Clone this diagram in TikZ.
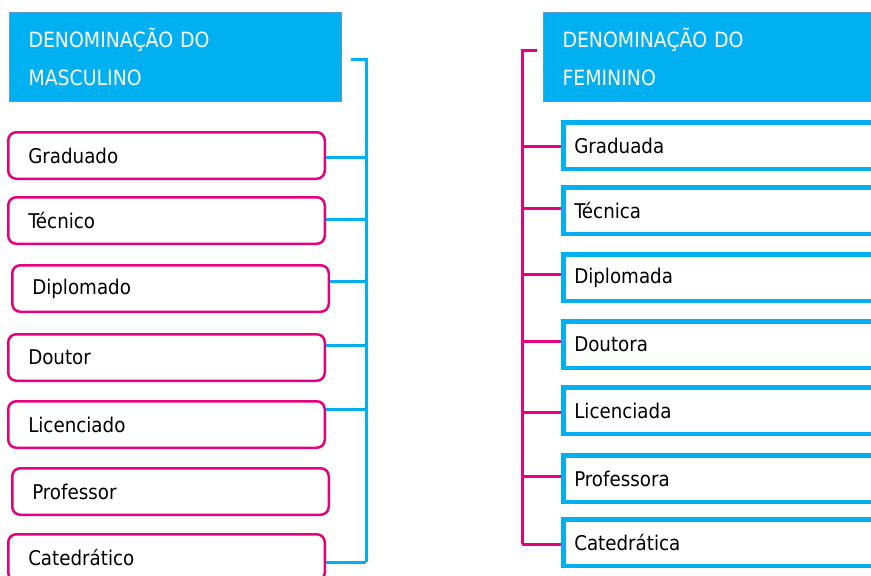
\documentclass[tikz,border=0pt]{standalone}
\usepackage{fontspec}
\setmainfont{DejaVu Sans Condensed}
\usetikzlibrary{positioning,calc}
\definecolor{cyanb}{RGB}{0,176,240}
\definecolor{pinkb}{RGB}{230,0,126}
\definecolor{edgeb}{RGB}{91,155,213}
\tikzset{
	head/.style={draw=edgeb, line width=1pt, fill=cyanb, text=white, anchor=north west,
		minimum width=332pt, minimum height=89pt, inner xsep=19pt, text width=294pt,
		align=left, font=\fontsize{21}{38}\selectfont},
	mbox/.style={draw=pinkb, line width=2.5pt, rounded corners=8pt, anchor=north west,
		minimum width=316.5pt, minimum height=46.5pt, inner xsep=20pt, text width=276.5pt,
		align=left, font=\fontsize{20.3}{24}\selectfont},
	fbox/.style={draw=cyanb, line width=4.5pt, anchor=north west,
		minimum width=340pt, minimum height=46.5pt, inner xsep=11pt, text width=318pt,
		align=left, font=\fontsize{20.3}{24}\selectfont},
	mline/.style={draw=cyanb, line width=3pt},
	fline/.style={draw=pinkb, line width=3pt}
}

\begin{document}
\begin{tikzpicture}[x=1pt, y=-1pt]
	\clip (0,0) rectangle (871,576);

	% masculino
	\node[head] (mh) at (9,12) {DENOMINAÇÃO DO\\MASCULINO};
	\node[mbox] (m1) at (7,131) {Graduado};
	\node[mbox] (m2) at (7,196) {Técnico};
	\node[mbox] (m3) at (11,264) {Diplomado};
	\node[mbox] (m4) at (7,333) {Doutor};
	\node[mbox] (m5) at (7,400) {Licenciado};
	\node[mbox] (m6) at (11,467) {Professor};
	\node[mbox] (m7) at (7,533) {Catedrático};

	\coordinate (mtop) at (351,59);
	\coordinate (mbar) at (366,59);
	\coordinate (mj1) at (366,157);
	\coordinate (mj2) at (366,219);
	\coordinate (mj3) at (366,281);
	\coordinate (mj4) at (366,345);
	\coordinate (mj5) at (366,409);
	\coordinate (mj7) at (366,562);

	\draw[mline] (mtop) -- (mbar) -- (mj7);
	\draw[mline] (m1.east |- mj1) -- (mj1);
	\draw[mline] (m2.east |- mj2) -- (mj2);
	\draw[mline] (m3.east |- mj3) -- (mj3);
	\draw[mline] (m4.east |- mj4) -- (mj4);
	\draw[mline] (m5.east |- mj5) -- (mj5);
	\draw[mline] (m7.east |- mj7) -- (mj7);

	% feminino
	\node[head] (fh) at (543,12) {DENOMINAÇÃO DO\\FEMININO};
	\node[fbox] (f1) at (561,120) {Graduada};
	\node[fbox] (f2) at (561,185) {Técnica};
	\node[fbox] (f3) at (561,252) {Diplomada};
	\node[fbox] (f4) at (561,319) {Doutora};
	\node[fbox] (f5) at (561,385) {Licenciada};
	\node[fbox] (f6) at (561,453) {Professora};
	\node[fbox] (f7) at (561,517) {Catedrática};

	\coordinate (ftop) at (537,50);
	\coordinate (fbar) at (522,50);
	\coordinate (fj1) at (522,146);
	\coordinate (fj2) at (522,208);
	\coordinate (fj3) at (522,274);
	\coordinate (fj4) at (522,341);
	\coordinate (fj5) at (522,412);
	\coordinate (fj6) at (522,476);
	\coordinate (fj7) at (522,544);

	\draw[fline] (ftop) -- (fbar) -- (fj7);
	\draw[fline] (fj1) -- (fj1 -| f1.west);
	\draw[fline] (fj2) -- (fj2 -| f2.west);
	\draw[fline] (fj3) -- (fj3 -| f3.west);
	\draw[fline] (fj4) -- (fj4 -| f4.west);
	\draw[fline] (fj5) -- (fj5 -| f5.west);
	\draw[fline] (fj6) -- (fj6 -| f6.west);
	\draw[fline] (fj7) -- (fj7 -| f7.west);
\end{tikzpicture}
\end{document}
